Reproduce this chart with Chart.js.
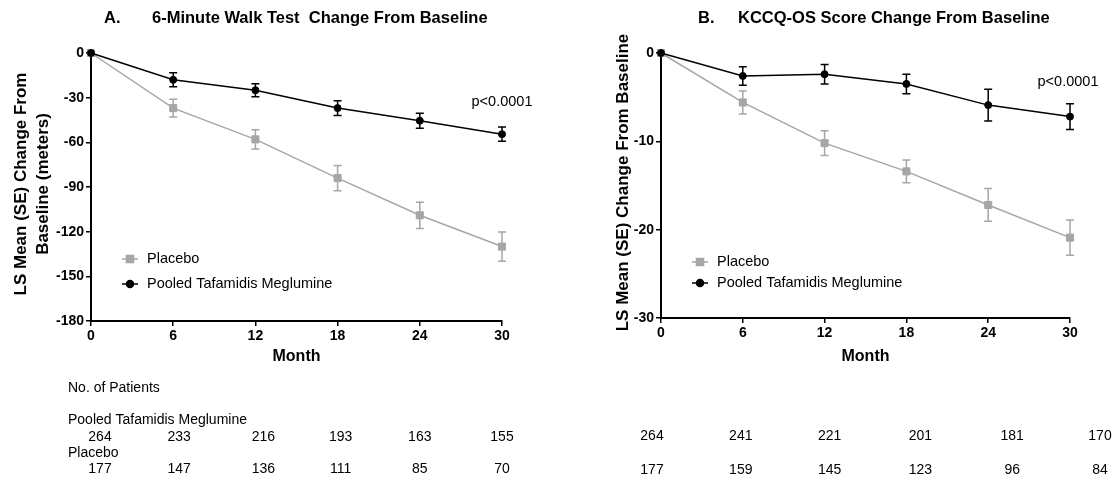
<!DOCTYPE html>
<html>
<head>
<meta charset="utf-8">
<script src="https://cdn.jsdelivr.net/npm/chart.js@4.4.0/dist/chart.umd.min.js"></script>
<style>
html, body { margin: 0; padding: 0; background: #fff; }
#wrap { position: relative; width: 1115px; height: 477px; }
.box { position: absolute; top: 0; height: 477px; }
</style>
</head>
<body>
<div id="wrap">
  <div class="box" style="left:0;width:557px"><canvas id="walk"></canvas></div>
  <div class="box" style="left:557px;width:558px"><canvas id="kccq"></canvas></div>
</div>
<script>
var months = [0, 6, 12, 18, 24, 30];

// 6-minute walk test (meters)
var walkPlacebo   = [0, -37, -58, -84, -109, -130];
var walkPlaceboSE = [0, 6, 6.4, 8.5, 8.8, 9.8];
var walkTafa      = [0, -18, -25, -37, -45.5, -54.5];
var walkTafaSE    = [0, 4.7, 4.4, 5, 5, 4.8];

// KCCQ-OS score
var kccqPlacebo   = [0, -5.6, -10.2, -13.4, -17.2, -20.9];
var kccqPlaceboSE = [0, 1.3, 1.4, 1.3, 1.85, 2];
var kccqTafa      = [0, -2.6, -2.4, -3.5, -5.9, -7.2];
var kccqTafaSE    = [0, 1.05, 1.1, 1.1, 1.8, 1.45];

// no. of patients
var walkNTafa = [264, 233, 216, 193, 163, 155];
var walkNPlac = [177, 147, 136, 111, 85, 70];
var kccqNTafa = [264, 241, 221, 201, 181, 170];
var kccqNPlac = [177, 159, 145, 123, 96, 84];

var GREY = '#a6a6a6';
var FONT = '"Liberation Sans", Arial, sans-serif';

function pts(vals) {
  return months.map(function (m, i) { return { x: m, y: vals[i] }; });
}

// vertical SE bars with caps
var errorBars = {
  id: 'errorBars',
  beforeDatasetsDraw: function (chart) {
    var ctx = chart.ctx, ys = chart.scales.y;
    chart.data.datasets.forEach(function (ds, di) {
      var meta = chart.getDatasetMeta(di);
      ctx.save();
      ctx.strokeStyle = ds.borderColor;
      ctx.lineWidth = 1.5;
      meta.data.forEach(function (p, i) {
        var se = ds.se[i];
        if (!se) return;
        var v = ds.data[i].y;
        var t = ys.getPixelForValue(v + se), b = ys.getPixelForValue(v - se);
        ctx.beginPath();
        ctx.moveTo(p.x, t); ctx.lineTo(p.x, b);
        ctx.moveTo(p.x - 4, t); ctx.lineTo(p.x + 4, t);
        ctx.moveTo(p.x - 4, b); ctx.lineTo(p.x + 4, b);
        ctx.stroke();
      });
      ctx.restore();
    });
  }
};

// titles, legend, p value and patient table
var decor = {
  id: 'decor',
  afterDraw: function (chart) {
    var o = chart.options.plugins.decor;
    var ctx = chart.ctx, a = chart.chartArea, xs = chart.scales.x;
    ctx.save();
    ctx.fillStyle = '#000';
    ctx.textBaseline = 'middle';

    ctx.font = 'bold 16.5px ' + FONT;
    ctx.textAlign = 'left';
    ctx.fillText(o.letter, o.letterX, 18);
    ctx.fillText(o.title, o.titleX, 18);

    ctx.textAlign = 'center';
    ctx.font = 'bold 16px ' + FONT;
    ctx.fillText('Month', (a.left + a.right) / 2, 357);

    ctx.font = 'bold 17px ' + FONT;
    o.yTitle.forEach(function (line, i) {
      ctx.save();
      ctx.translate(o.yTitleX + i * 22, (a.top + a.bottom) / 2 - 3);
      ctx.rotate(-Math.PI / 2);
      ctx.fillText(line, 0, 0);
      ctx.restore();
    });

    ctx.font = '14.5px ' + FONT;
    ctx.fillText('p<0.0001', o.pX, o.pY);

    // legend
    ctx.textAlign = 'left';
    [1, 0].forEach(function (di, k) {
      var ds = chart.data.datasets[di];
      var y = o.legY[k], x0 = a.left + 31;
      ctx.strokeStyle = ds.borderColor;
      ctx.lineWidth = 1.5;
      ctx.beginPath(); ctx.moveTo(x0, y); ctx.lineTo(x0 + 16, y); ctx.stroke();
      Chart.helpers.drawPoint(ctx, {
        pointStyle: ds.pointStyle, radius: ds.pointRadius, borderWidth: 1
      }, x0 + 8, y);
      ctx.fillStyle = ds.borderColor;
      ctx.fill();
      ctx.fillStyle = '#000';
      ctx.font = '14.5px ' + FONT;
      ctx.fillText(ds.label, x0 + 25, y);
    });

    // patient numbers
    ctx.font = '14px ' + FONT;
    if (o.rowLabels) {
      ctx.textAlign = 'left';
      ctx.fillText('No. of Patients', 68, 388);
      ctx.fillText('Pooled Tafamidis Meglumine', 68, 420);
      ctx.fillText('Placebo', 68, 453);
    }
    ctx.textAlign = 'center';
    months.forEach(function (m, i) {
      var x = xs.getPixelForValue(m) + o.nShift[i];
      ctx.fillText(String(o.nTafa[i]), x, o.nY[0]);
      ctx.fillText(String(o.nPlac[i]), x, o.nY[1]);
    });
    ctx.restore();
  }
};

function makeChart(id, s) {
  var tickFont = { family: FONT, size: 14, weight: 'bold' };
  var cfg = {
    type: 'line',
    data: {
      datasets: [{
        label: 'Pooled Tafamidis Meglumine',
        data: pts(s.tafa), se: s.tafaSE,
        borderColor: '#000', backgroundColor: '#000',
        borderWidth: 1.5, pointStyle: 'circle', pointRadius: 3.5,
        pointBorderWidth: 1, clip: false, order: 0
      }, {
        label: 'Placebo',
        data: pts(s.plac), se: s.placSE,
        borderColor: GREY, backgroundColor: GREY,
        borderWidth: 1.5, pointStyle: 'rect', pointRadius: 5,
        pointBorderWidth: 1, clip: false, order: 1
      }]
    },
    options: {
      responsive: true,
      maintainAspectRatio: false,
      animation: false,
      layout: { padding: { left: 0, top: 53, right: s.padRight, bottom: s.padBottom } },
      plugins: {
        legend: { display: false },
        tooltip: { enabled: false },
        decor: s.decor
      },
      scales: {
        x: {
          type: 'linear', min: 0, max: 30,
          afterFit: function (sc) { sc.height = 30; },
          ticks: { stepSize: 6, color: '#000', padding: 2, font: tickFont },
          grid: { drawOnChartArea: false, drawTicks: true, tickLength: 5, color: '#000', lineWidth: 1.5 },
          border: { display: true, color: '#000', width: 2 }
        },
        y: {
          min: s.yMin, max: 0,
          afterFit: function (sc) { sc.width = s.yWidth; },
          ticks: { stepSize: s.yStep, color: '#000', padding: 2, font: tickFont },
          grid: { drawOnChartArea: false, drawTicks: true, tickLength: 5, color: '#000', lineWidth: 1.5 },
          border: { display: true, color: '#000', width: 2 }
        }
      }
    },
    plugins: [errorBars, decor]
  };
  return new Chart(document.getElementById(id), cfg);
}

var walkChart = makeChart('walk', {
  tafa: walkTafa, tafaSE: walkTafaSE, plac: walkPlacebo, placSE: walkPlaceboSE,
  yMin: -180, yStep: 30, yWidth: 91, padRight: 55, padBottom: 126,
  decor: {
    letter: 'A.', letterX: 104, title: '6-Minute Walk Test  Change From Baseline', titleX: 152,
    yTitle: ['LS Mean (SE) Change From', 'Baseline (meters)'], yTitleX: 21,
    pX: 502, pY: 102, legY: [259, 284],
    rowLabels: true, nTafa: walkNTafa, nPlac: walkNPlac,
    nShift: [9, 6, 8, 3, 0, 0], nY: [437, 469]
  }
});

var kccqChart = makeChart('kccq', {
  tafa: kccqTafa, tafaSE: kccqTafaSE, plac: kccqPlacebo, placSE: kccqPlaceboSE,
  yMin: -30, yStep: 10, yWidth: 104, padRight: 45, padBottom: 129,
  decor: {
    letter: 'B.', letterX: 141, title: 'KCCQ-OS Score Change From Baseline', titleX: 181,
    yTitle: ['LS Mean (SE) Change From Baseline'], yTitleX: 66,
    pX: 511, pY: 82, legY: [262, 283],
    rowLabels: false, nTafa: kccqNTafa, nPlac: kccqNPlac,
    nShift: [-9, -2, 5, 14, 24, 30], nY: [436, 470]
  }
});
</script>
</body>
</html>
